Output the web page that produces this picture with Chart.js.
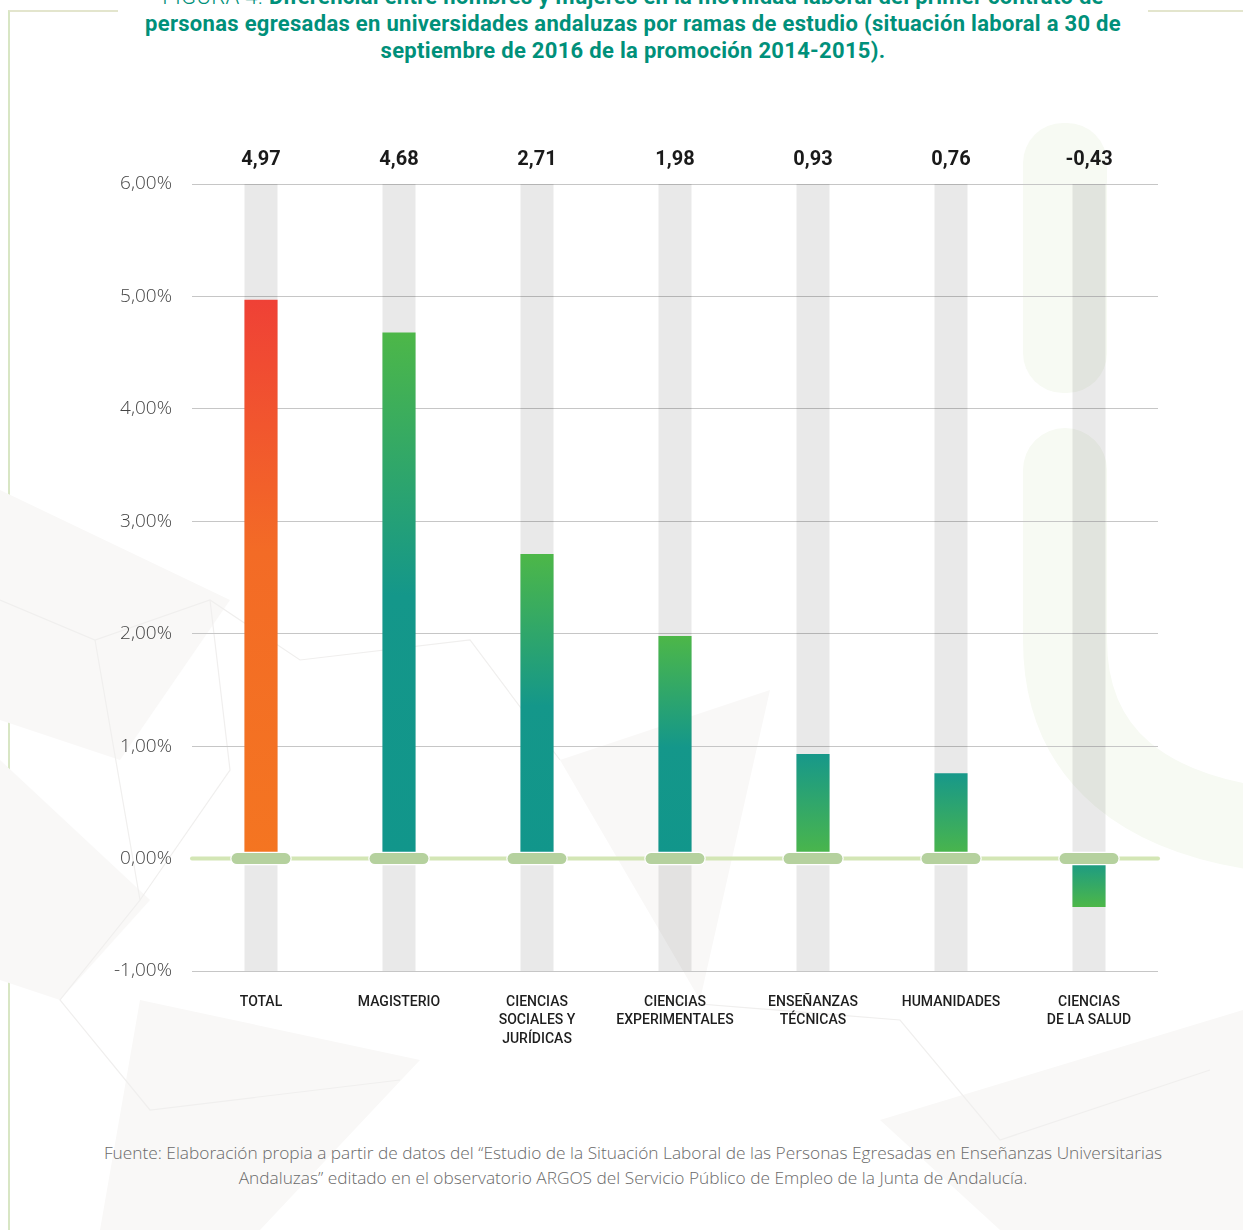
<!DOCTYPE html>
<html>
<head>
<meta charset="utf-8">
<script src="https://cdn.jsdelivr.net/npm/chart.js@4"></script>
<style>
  html, body { margin: 0; padding: 0; background: #fff; }
  body { width: 1243px; height: 1230px; position: relative; overflow: hidden; }
  .frame { position: absolute; left: 8px; top: 10px; width: 1400px; height: 1400px;
           border-left: 2px solid #d8e6c4; border-top: 2px solid #e3e5cd; }
  .deco { position: absolute; left: 0; top: 0; }
  .title { position: absolute; left: 118px; width: 1030px; top: -17px; background: #fff;
           text-align: center; color: #00907a; font-family: "Roboto", sans-serif; font-weight: 700;
           font-size: 22px; line-height: 27px; letter-spacing: 0.3px; white-space: nowrap; }
  .title .lite { font-weight: 300; }
  .footer { position: absolute; left: 0; width: 1266px; top: 1140px; text-align: center;
            color: #6a6a6a; font-family: "Open Sans", sans-serif; font-weight: 300;
            font-size: 17.3px; line-height: 25px; white-space: nowrap; }
  #chart { position: absolute; left: 0; top: 140px; }
</style>
</head>
<body>
<div class="frame"></div>
<svg class="deco" width="1243" height="1230">
  <g fill="#f9f8f7">
    <polygon points="0,490 230,600 120,760 0,720"/>
    <polygon points="0,760 150,900 60,1000 0,980"/>
    <polygon points="140,1000 420,1060 260,1230 100,1230"/>
    <polygon points="560,760 770,690 700,1000"/>
    <polygon points="880,1120 1243,1010 1243,1230 1000,1230"/>
  </g>
  <g fill="none" stroke="#f0efee" stroke-width="1.2">
    <polyline points="0,600 95,640 210,600 300,660 470,640 560,760"/>
    <polyline points="95,640 140,900 60,1000 150,1110 400,1080"/>
    <polyline points="210,600 230,770 140,900"/>
    <polyline points="650,1000 900,1020 1000,1140 1210,1070"/>
  </g>
  <rect x="1023" y="123" width="84" height="270" rx="40" fill="#f7faf3"/>
  <path d="M1065 470 L1065 640 C1065 760 1150 815 1270 830" stroke="#f7faf3" stroke-width="84" stroke-linecap="round" fill="none"/>
</svg>
<div class="title">
  <span class="lite">FIGURA 4.</span> Diferencial entre hombres y mujeres en la movilidad laboral del primer contrato de<br>
  personas egresadas en universidades andaluzas por ramas de estudio (situación laboral a 30 de<br>
  septiembre de 2016 de la promoción 2014-2015).
</div>
<canvas id="chart" width="1243" height="940"></canvas>
<div class="footer">
  Fuente: Elaboración propia a partir de datos del “Estudio de la Situación Laboral de las Personas Egresadas en Enseñanzas Universitarias<br>
  Andaluzas” editado en el observatorio ARGOS del Servicio Público de Empleo de la Junta de Andalucía.
</div>
<script>
// Ramas de estudio (etiquetas en varias líneas)
const categories = [
    ['TOTAL'],
    ['MAGISTERIO'],
    ['CIENCIAS', 'SOCIALES Y', 'JURÍDICAS'],
    ['CIENCIAS', 'EXPERIMENTALES'],
    ['ENSEÑANZAS', 'TÉCNICAS'],
    ['HUMANIDADES'],
    ['CIENCIAS', 'DE LA SALUD']
];
// Diferencia hombres - mujeres (puntos porcentuales)
const differences = [4.97, 4.68, 2.71, 1.98, 0.93, 0.76, -0.43];
const yMin = -1;
const yMax = 6;
const yStep = 1;

// gradient stops per bar, top -> bottom
const redTop = [[0, '#ef4136'], [0.45, '#f36b26'], [1, '#f47521']];
const greenTop = [[0, '#4db748'], [0.5, '#14978a'], [1, '#11968b']];
const tealTop = [[0, '#17988a'], [1, '#4db748']];
const barGradients = [redTop, greenTop, greenTop, greenTop, tealTop, tealTop, tealTop];

const comma = (v, d) => v.toFixed(d).replace('.', ',');

function barFill(context) {
    const chart = context.chart;
    const { ctx, chartArea, scales } = chart;
    if (!chartArea) return '#11968b';
    const v = differences[context.dataIndex];
    const top = scales.y.getPixelForValue(Math.max(v, 0));
    const bottom = scales.y.getPixelForValue(Math.min(v, 0));
    const g = ctx.createLinearGradient(0, top, 0, bottom);
    barGradients[context.dataIndex].forEach(([s, c]) => g.addColorStop(s, c));
    return g;
}

const columnsAndZero = {
    id: 'columnsAndZero',
    beforeDatasetsDraw(chart) {
        const { ctx, chartArea, scales } = chart;
        ctx.save();
        ctx.fillStyle = 'rgba(0,0,0,0.085)';
        categories.forEach((c, i) => {
            const x = scales.x.getPixelForValue(i);
            ctx.fillRect(x - 16.5, chartArea.top, 33, chartArea.bottom - chartArea.top);
        });
        ctx.restore();
    },
    afterDatasetsDraw(chart) {
        const { ctx, chartArea, scales } = chart;
        const y0 = scales.y.getPixelForValue(0);
        ctx.save();
        // zero line
        ctx.strokeStyle = '#d3e6b5';
        ctx.lineWidth = 4;
        ctx.lineCap = 'round';
        ctx.beginPath();
        ctx.moveTo(chartArea.left, y0);
        ctx.lineTo(chartArea.right, y0);
        ctx.stroke();
        // pills on the zero line
        categories.forEach((c, i) => {
            const x = scales.x.getPixelForValue(i);
            ctx.beginPath();
            ctx.roundRect(x - 29.5, y0 - 5.5, 59, 11, 5.5);
            ctx.fillStyle = '#b5d19e';
            ctx.strokeStyle = '#ffffff';
            ctx.lineWidth = 2.5;
            ctx.stroke();
            ctx.fill();
        });
        // value labels above the plot
        ctx.fillStyle = '#1a1a1a';
        ctx.font = '700 20px Roboto, sans-serif';
        ctx.textAlign = 'center';
        ctx.textBaseline = 'middle';
        differences.forEach((v, i) => {
            ctx.fillText(comma(v, 2), scales.x.getPixelForValue(i), chartArea.top - 24);
        });
        ctx.restore();
    }
};

new Chart(document.getElementById('chart').getContext('2d'), {
    type: 'bar',
    data: {
        labels: categories,
        datasets: [{
            data: differences,
            backgroundColor: barFill,
            borderWidth: 0,
            barPercentage: 0.24,
            categoryPercentage: 1
        }]
    },
    options: {
        responsive: false,
        animation: false,
        devicePixelRatio: 1,
        layout: { padding: { top: 44, right: 85, left: 0, bottom: 0 } },
        plugins: { legend: { display: false }, tooltip: { enabled: false } },
        scales: {
            x: {
                grid: { display: false, drawTicks: false },
                border: { display: false },
                afterFit(scale) { scale.height = 109; },
                ticks: {
                    autoSkip: false,
                    maxRotation: 0,
                    padding: 22,
                    color: '#1e1e1e',
                    font: { family: 'Roboto', weight: '500', size: 14, lineHeight: 1.32 }
                }
            },
            y: {
                min: yMin,
                max: yMax,
                grid: {
                    drawTicks: false,
                    color: (c) => (c.tick && c.tick.value === 0 ? 'rgba(0,0,0,0)' : '#c6c6c6')
                },
                border: { display: false },
                afterFit(scale) { scale.width = 192; },
                ticks: {
                    stepSize: yStep,
                    padding: 20,
                    color: '#444',
                    font: { family: 'Open Sans', weight: '300', size: 19 },
                    callback: (v) => comma(v, 2) + '%'
                }
            }
        }
    },
    plugins: [columnsAndZero]
});
</script>
</body>
</html>
